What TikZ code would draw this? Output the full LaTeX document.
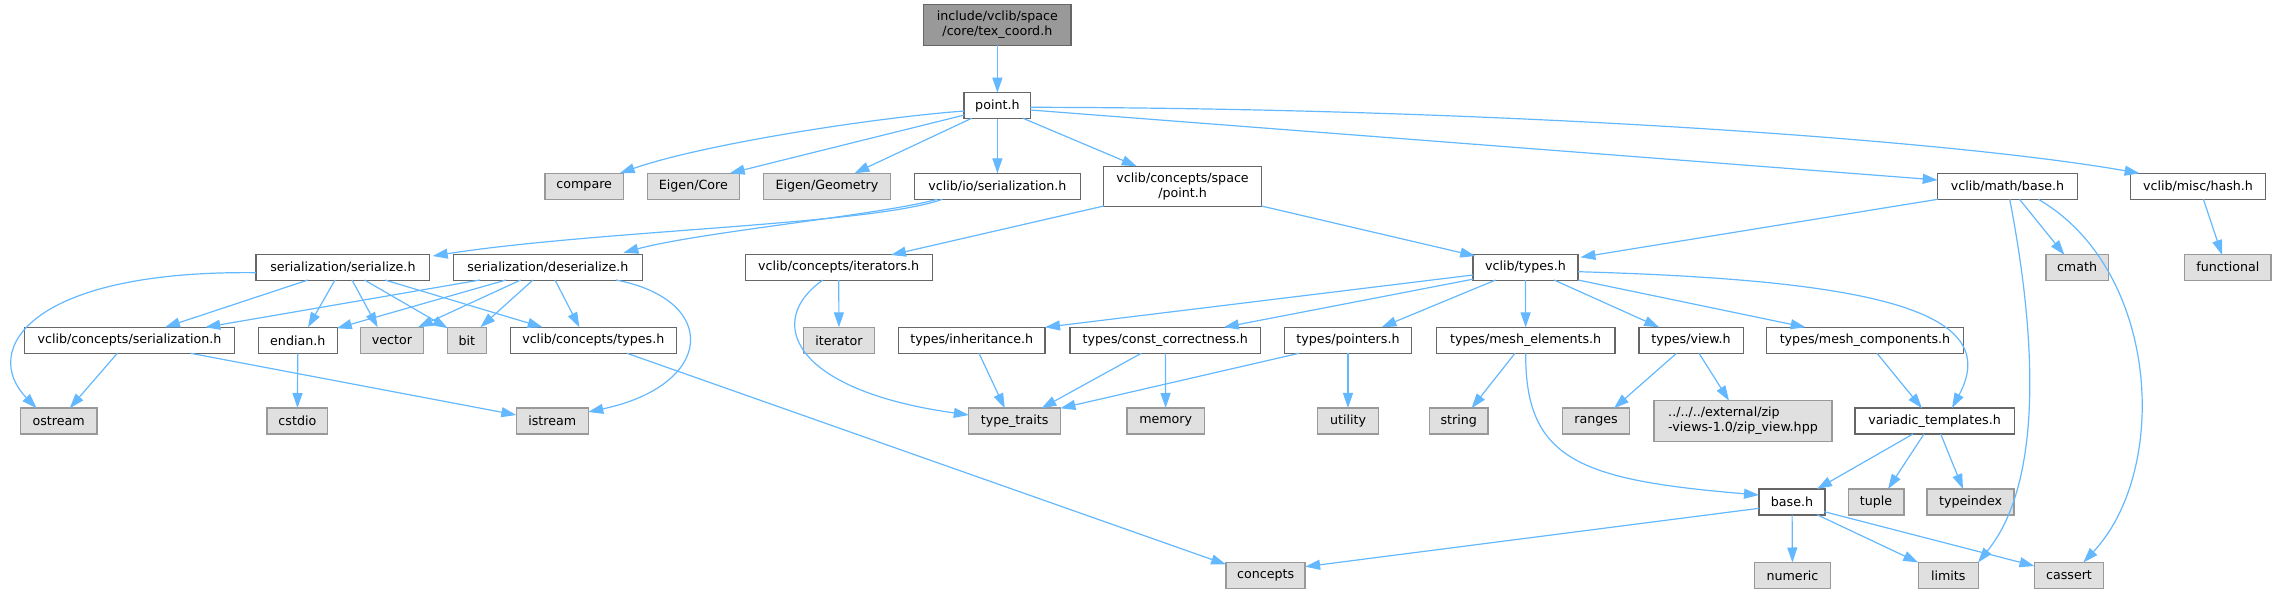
\documentclass[tikz,border=0pt]{standalone}
\usepackage{fontspec}
\setmainfont{DejaVu Sans}
\usetikzlibrary{arrows.meta}
\definecolor{edgec}{HTML}{63B8FF}
\definecolor{nodeborder}{HTML}{666666}
\definecolor{extborder}{HTML}{999999}
\definecolor{extfill}{HTML}{E0E0E0}
\definecolor{rootfill}{HTML}{999999}
\begin{document}
\begin{tikzpicture}[x=0.5pt,y=-0.5pt,
  every node/.style={font=\fontsize{6.33pt}{7.5pt}\selectfont, inner sep=0pt, outer sep=0pt},
  wbox/.style={draw=nodeborder, fill=white, line width=0.65pt, minimum height=13pt},
  gbox/.style={draw=extborder, fill=extfill, line width=0.65pt, minimum height=13pt},
  rbox/.style={draw=nodeborder, fill=rootfill, line width=0.65pt, minimum height=20.3pt, align=center},
  dep/.style={draw=edgec, line width=0.6pt, -{Triangle[length=7.5pt,width=5pt]}}]
\useasboundingbox (0,0) rectangle (2277,593);
% rank 0
\node[rbox, minimum width=73.7pt] (tex) at (997.4,25) {include/vclib/space\\/core/tex\_coord.h};
% rank 1
\node[wbox, minimum width=33.3pt] (point) at (997.4,105.7) {point.h};
% rank 2
\node[gbox, minimum width=39.2pt] (compare) at (584.2,186.3) {compare};
\node[gbox, minimum width=46pt] (eigcore) at (693.4,186.3) {Eigen/Core};
\node[gbox, minimum width=63.5pt] (eiggeo) at (827,186.3) {Eigen/Geometry};
\node[wbox, minimum width=83pt] (ioser) at (997.4,186.3) {vclib/io/serialization.h};
\node[wbox, minimum width=78.8pt, minimum height=20.2pt, align=center] (spacept) at (1182.6,186.5) {vclib/concepts/space\\/point.h};
\node[wbox, minimum width=69.8pt] (mathbase) at (2007.5,186.3) {vclib/math/base.h};
\node[wbox, minimum width=67.5pt] (hash) at (2198,186.3) {vclib/misc/hash.h};
% rank 3
\node[wbox, minimum width=86.9pt] (serialize) at (342.9,267.2) {serialization/serialize.h};
\node[wbox, minimum width=94.65pt] (deserialize) at (547.9,267.2) {serialization/deserialize.h};
\node[wbox, minimum width=93.5pt] (iterators) at (838.7,267.2) {vclib/concepts/iterators.h};
\node[wbox, minimum width=52.5pt] (types) at (1525.5,267.2) {vclib/types.h};
\node[gbox, minimum width=31.15pt] (cmath) at (2077,267.2) {cmath};
\node[gbox, minimum width=43.2pt] (functional) at (2227.8,267.2) {functional};
% rank 4
\node[wbox, minimum width=105.25pt] (cser) at (129.5,340.3) {vclib/concepts/serialization.h};
\node[wbox, minimum width=39.6pt] (endian) at (297.8,340.3) {endian.h};
\node[gbox, minimum width=31.2pt] (vector) at (392,340.3) {vector};
\node[gbox, minimum width=19.45pt] (bit) at (466.8,340.3) {bit};
\node[wbox, minimum width=82.85pt] (ctypes) at (593.3,340.3) {vclib/concepts/types.h};
\node[gbox, minimum width=35.2pt] (iterator) at (839,340.3) {iterator};
\node[wbox, minimum width=73.3pt] (inherit) at (971.7,340.3) {types/inheritance.h};
\node[wbox, minimum width=95.3pt] (constc) at (1165.3,340.3) {types/const\_correctness.h};
\node[wbox, minimum width=63.4pt] (pointers) at (1348,340.3) {types/pointers.h};
\node[wbox, minimum width=89.35pt] (meshel) at (1525.7,340.3) {types/mesh\_elements.h};
\node[wbox, minimum width=52.15pt] (view) at (1691,340.3) {types/view.h};
\node[wbox, minimum width=98.75pt] (meshcomp) at (1865,340.3) {types/mesh\_components.h};
% rank 5
\node[gbox, minimum width=38.15pt] (ostream) at (58.7,421) {ostream};
\node[gbox, minimum width=30.4pt] (cstdio) at (297.4,421) {cstdio};
\node[gbox, minimum width=35.95pt] (istream) at (552.3,421) {istream};
\node[gbox, minimum width=45.85pt] (typetraits) at (1014.6,421) {type\_traits};
\node[gbox, minimum width=38.65pt] (memory) at (1165.7,421) {memory};
\node[gbox, minimum width=30.4pt] (utility) at (1348,421) {utility};
\node[gbox, minimum width=29.25pt] (string) at (1458.8,421) {string};
\node[gbox, minimum width=33.8pt] (ranges) at (1596,421) {ranges};
\node[gbox, minimum width=88.9pt, minimum height=20.3pt, align=left] (zip) at (1743,421) {../../../external/zip\\-views-1.0/zip\_view.hpp};
\node[wbox, minimum width=79.6pt] (variadic) at (1934.6,421) {variadic\_templates.h};
% rank 6
\node[wbox, minimum width=33pt] (base) at (1792,502) {base.h};
\node[gbox, minimum width=27.85pt] (tuple) at (1876,502) {tuple};
\node[gbox, minimum width=43.5pt] (typeindex) at (1970.6,502) {typeindex};
% rank 7
\node[gbox, minimum width=39.5pt] (concepts) at (1265.6,575.5) {concepts};
\node[gbox, minimum width=37.85pt] (numeric) at (1792.5,575.5) {numeric};
\node[gbox, minimum width=30pt] (limits) at (1948.3,575.5) {limits};
\node[gbox, minimum width=34.5pt] (cassert) at (2069,575.5) {cassert};

% edges
\draw[dep] (tex) -- (point);
\draw[dep] ([shift={(-33,5.3)}]point.center) .. controls (870,118) and (700,145) .. ([shift={(35.5,-13)}]compare.center);
\draw[dep] ([shift={(-33,9.3)}]point.center) -- ([shift={(36.3,-13)}]eigcore.center);
\draw[dep] ([shift={(-25.7,12.6)}]point.center) -- ([shift={(27.4,-13)}]eiggeo.center);
\draw[dep] (point) -- (ioser);
\draw[dep] ([shift={(25.6,12.6)}]point.center) -- ([shift={(-45.8,-20.2)}]spacept.center);
\draw[dep] ([shift={(33,4.3)}]point.center) -- ([shift={(-69.8,-6.3)}]mathbase.center);
\draw[dep] ([shift={(33,1.6)}]point.center) .. controls (1500,108) and (1950,140) .. ([shift={(-58.4,-13)}]hash.center);

\draw[dep] ([shift={(-55,13)}]ioser.center) .. controls (870,225) and (600,230) .. ([shift={(89.8,-11.2)}]serialize.center);
\draw[dep] ([shift={(-60,13)}]ioser.center) .. controls (880,215) and (700,232) .. ([shift={(75.5,-14.5)}]deserialize.center);
\draw[dep] ([shift={(-78.8,19.5)}]spacept.center) -- ([shift={(52.3,-12.2)}]iterators.center);
\draw[dep] ([shift={(78.8,19.5)}]spacept.center) -- ([shift={(-50.2,-11.2)}]types.center);
\draw[dep] ([shift={(-69.8,13)}]mathbase.center) -- ([shift={(54.9,-9.9)}]types.center);
\draw[dep] ([shift={(12,13)}]mathbase.center) -- ([shift={(-12.5,-12.2)}]cmath.center);
\draw[dep] ([shift={(2.2,13)}]mathbase.center) .. controls (2035,330) and (2045,480) .. ([shift={(29.7,-13)}]limits.center);
\draw[dep] ([shift={(30.8,13)}]mathbase.center) .. controls (2160,270) and (2170,470) .. ([shift={(14.3,-13)}]cassert.center);
\draw[dep] ([shift={(5.4,13)}]hash.center) -- ([shift={(-5.8,-12.2)}]functional.center);

\draw[dep] ([shift={(-86.9,5.5)}]serialize.center) .. controls (30,270) and (-20,350) .. ([shift={(-22,-12.7)}]ostream.center);
\draw[dep] ([shift={(-34.9,12.8)}]serialize.center) -- ([shift={(35.5,-13)}]cser.center);
\draw[dep] ([shift={(-7.9,12.8)}]serialize.center) -- ([shift={(10.2,-13)}]endian.center);
\draw[dep] ([shift={(9.1,12.8)}]serialize.center) -- ([shift={(-14.3,-13)}]vector.center);
\draw[dep] ([shift={(21.6,12.8)}]serialize.center) -- ([shift={(-19,-12)}]bit.center);
\draw[dep] ([shift={(42,12.8)}]serialize.center) -- ([shift={(-50.6,-13)}]ctypes.center);

\draw[dep] ([shift={(-67.9,12.8)}]deserialize.center) -- ([shift={(75.8,-13)}]cser.center);
\draw[dep] ([shift={(-41.9,12.8)}]deserialize.center) -- ([shift={(39,-12)}]endian.center);
\draw[dep] ([shift={(-27.2,12.8)}]deserialize.center) -- ([shift={(26,-13)}]vector.center);
\draw[dep] ([shift={(-14.9,12.8)}]deserialize.center) -- ([shift={(13.6,-13)}]bit.center);
\draw[dep] ([shift={(7.1,12.8)}]deserialize.center) -- ([shift={(-13.9,-13)}]ctypes.center);
\draw[dep] ([shift={(68.1,12.8)}]deserialize.center) .. controls (720,300) and (715,385) .. ([shift={(36,-9)}]istream.center);

\draw[dep] ([shift={(-12.2,13)}]cser.center) -- ([shift={(11,-12.7)}]ostream.center);
\draw[dep] ([shift={(61.2,13)}]cser.center) -- ([shift={(-36,-6)}]istream.center);
\draw[dep] (endian) -- (cstdio);
\draw[dep] ([shift={(33.7,13)}]ctypes.center) -- ([shift={(-39.5,-11)}]concepts.center);

\draw[dep] (iterators) -- (iterator);
\draw[dep] ([shift={(-15.7,12.8)}]iterators.center) .. controls (765,320) and (790,390) .. ([shift={(-45.8,-6)}]typetraits.center);

\draw[dep] ([shift={(-52.5,7.8)}]types.center) -- ([shift={(73.3,-13)}]inherit.center);
\draw[dep] ([shift={(-52.5,12)}]types.center) -- ([shift={(58.5,-13)}]constc.center);
\draw[dep] ([shift={(-29.9,12.8)}]types.center) -- ([shift={(33.5,-13)}]pointers.center);
\draw[dep] (types) -- (meshel);
\draw[dep] ([shift={(28.5,12.8)}]types.center) -- ([shift={(-31.8,-13)}]view.center);
\draw[dep] ([shift={(52.5,12.8)}]types.center) -- ([shift={(-59.4,-13)}]meshcomp.center);
\draw[dep] ([shift={(52.5,4.5)}]types.center) .. controls (1870,280) and (2005,310) .. ([shift={(17.4,-13)}]variadic.center);

\draw[dep] ([shift={(7.3,13)}]inherit.center) -- ([shift={(-9.8,-12.7)}]typetraits.center);
\draw[dep] ([shift={(-24,13)}]constc.center) -- ([shift={(26.8,-12.7)}]typetraits.center);
\draw[dep] (constc) -- (memory);
\draw[dep] ([shift={(-49,13)}]pointers.center) -- ([shift={(45.8,-12.7)}]typetraits.center);
\draw[dep] (pointers) -- (utility);
\draw[dep] ([shift={(-10.7,13)}]meshel.center) -- ([shift={(12.7,-12.7)}]string.center);
\draw[dep] ([shift={(0,13)}]meshel.center) .. controls (1525,460) and (1580,480) .. ([shift={(-33,-7)}]base.center);
\draw[dep] ([shift={(-14.5,13)}]view.center) -- ([shift={(18,-12.7)}]ranges.center);
\draw[dep] ([shift={(8,13)}]view.center) -- ([shift={(-14,-20.3)}]zip.center);
\draw[dep] ([shift={(12,13)}]meshcomp.center) -- ([shift={(-12.6,-12.7)}]variadic.center);

\draw[dep] ([shift={(-21.6,13)}]variadic.center) -- ([shift={(25,-13)}]base.center);
\draw[dep] ([shift={(-10.6,13)}]variadic.center) -- ([shift={(12,-13)}]tuple.center);
\draw[dep] ([shift={(6.1,13)}]variadic.center) -- ([shift={(-7.6,-13)}]typeindex.center);

\draw[dep] ([shift={(-33,6.3)}]base.center) -- ([shift={(39.5,-8.8)}]concepts.center);
\draw[dep] (base) -- (numeric);
\draw[dep] ([shift={(25,12.7)}]base.center) -- ([shift={(-30,-13)}]limits.center);
\draw[dep] ([shift={(32.3,9.7)}]base.center) -- ([shift={(-34.5,-9.5)}]cassert.center);
\end{tikzpicture}
\end{document}
